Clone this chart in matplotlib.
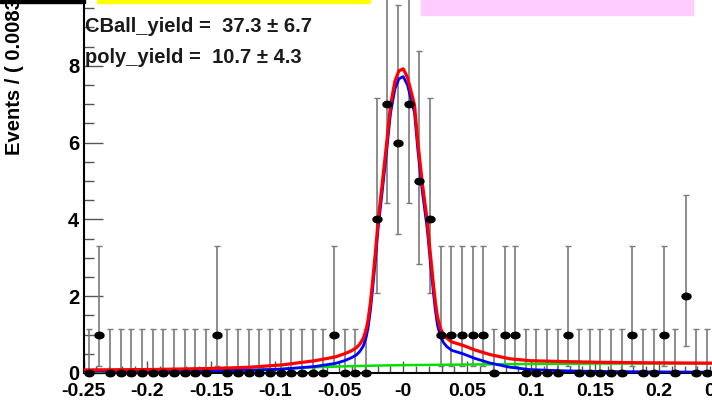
import numpy as np
import matplotlib
matplotlib.use("Agg")
import matplotlib.pyplot as plt
from matplotlib.patches import Rectangle

# ---- 数据：60 个 bin，范围 -0.25 ~ 0.25 ----
x_min, x_max, n_bins = -0.25, 0.25, 60
counts = [0, 1, 0, 0, 0, 0, 0, 0, 0, 0,
          0, 0, 1, 0, 0, 0, 0, 0, 0, 0,
          0, 0, 0, 1, 0, 0, 0, 4, 7, 6,
          7, 5, 4, 1, 1, 1, 1, 1, 0, 1,
          1, 0, 0, 0, 0, 1, 0, 0, 0, 0,
          0, 1, 0, 0, 1, 0, 2, 0, 0, 0]

# Poisson 68% 区间 (下误差 / 上误差)
err_lo = {0: 0.0, 1: 0.827, 2: 1.292, 4: 1.914, 5: 2.159, 6: 2.377, 7: 2.580}
err_hi = {0: 1.148, 1: 2.299, 2: 2.638, 4: 3.162, 5: 3.382, 6: 3.583, 7: 3.770}

# 拟合曲线（从图中读取的采样点）
curve_x = [-0.25, -0.198, -0.147, -0.120, -0.095, -0.069, -0.053, -0.046, -0.041,
           -0.0366, -0.034, -0.0313, -0.029, -0.0274, -0.0258, -0.0242, -0.0216,
           -0.0196, -0.0164, -0.0130, -0.0099, -0.0065, -0.0034, 0.0, 0.0033,
           0.0088, 0.0115, 0.0149, 0.0187, 0.0209, 0.0235, 0.0251, 0.0267, 0.0290,
           0.0315, 0.0340, 0.0379, 0.0467, 0.0560, 0.0678, 0.0834, 0.0990, 0.1225,
           0.1514, 0.1928, 0.25]
total_y = [0.08, 0.09, 0.12, 0.15, 0.21, 0.32, 0.42, 0.50, 0.57,
           0.66, 0.75, 0.90, 1.13, 1.40, 1.80, 2.30, 3.20,
           3.98, 4.94, 5.98, 6.98, 7.60, 7.87, 7.92, 7.70,
           6.98, 5.98, 4.94, 3.98, 3.20, 2.33, 1.85, 1.47, 1.17,
           1.00, 0.91, 0.81, 0.72, 0.60, 0.48, 0.37, 0.32, 0.30,
           0.28, 0.265, 0.255]
signal_y = [0.05, 0.05, 0.06, 0.07, 0.10, 0.17, 0.25, 0.32, 0.39,
            0.47, 0.56, 0.70, 0.93, 1.20, 1.60, 2.10, 3.01,
            3.79, 4.74, 5.78, 6.78, 7.40, 7.66, 7.72, 7.50,
            6.78, 5.78, 4.73, 3.77, 2.99, 2.12, 1.64, 1.26, 0.96,
            0.79, 0.69, 0.59, 0.50, 0.38, 0.26, 0.15, 0.09, 0.06,
            0.04, 0.03, 0.02]
bkg_x = [-0.25, -0.2, -0.15, -0.1, -0.07, -0.05, -0.025, 0.0, 0.05, 0.1, 0.15, 0.2, 0.25]
bkg_y = [0.03, 0.04, 0.06, 0.10, 0.15, 0.17, 0.19, 0.205, 0.22, 0.235, 0.245, 0.25, 0.255]

x_ticks = [-0.25, -0.2, -0.15, -0.1, -0.05, 0.0, 0.05, 0.1, 0.15, 0.2, 0.25]
x_tick_labels = ['-0.25', '-0.2', '-0.15', '-0.1', '-0.05', '-0',
                 '0.05', '0.1', '0.15', '0.2', '0.25']
y_ticks = [0, 2, 4, 6, 8, 10]

param_lines = ['CBall_yield =  37.3 \u00b1 6.7', 'poly_yield =  10.7 \u00b1 4.3']
y_label = 'Events / ( 0.00833 )'

plt.rcParams['font.family'] = ['Liberation Sans', 'DejaVu Sans']
plt.rcParams['font.weight'] = 'bold'


def main():
    W, H = 712, 404
    fig = plt.figure(figsize=(W / 100, H / 100), dpi=100)

    # 坐标框比图片大（原图被裁切过），右边和上边落在画布外
    px_left, px_right, px_zero = 83.5, 723.0, 373.0
    y_top = 11.0
    px_per_unit = 38.4
    ax = fig.add_axes([px_left / W, (H - px_zero) / H,
                       (px_right - px_left) / W, y_top * px_per_unit / H])
    ax.set_xlim(x_min, x_max)
    ax.set_ylim(0, y_top)

    width = (x_max - x_min) / n_bins
    centers = x_min + width * (np.arange(n_bins) + 0.5)
    lo = [err_lo[c] for c in counts]
    hi = [err_hi[c] for c in counts]

    ax.errorbar(centers, counts, yerr=[lo, hi], fmt='none', ecolor='#7a7a7a',
                elinewidth=1.2, capsize=2, capthick=1.0, zorder=2)

    ax.plot(bkg_x, bkg_y, color='#00e000', lw=1.8, zorder=3)
    ax.plot(curve_x, signal_y, color='#0000ff', lw=2.0, zorder=4)
    ax.plot(curve_x, total_y, color='#ff0000', lw=2.3, zorder=5)

    t = np.linspace(0, 2 * np.pi, 40)
    ellipse = list(zip(1.4 * np.cos(t), np.sin(t)))
    ax.plot(centers, counts, linestyle='none', marker=ellipse, markersize=6.5,
            color='black', zorder=6, clip_on=False)

    # 坐标轴样式 (ROOT 风格：刻度朝内)
    for side in ['top', 'right']:
        ax.spines[side].set_visible(False)
    ax.spines['left'].set_linewidth(1.5)
    ax.spines['bottom'].set_linewidth(1.5)

    ax.set_xticks(x_ticks)
    ax.set_xticklabels(x_tick_labels)
    ax.set_xticks(np.arange(-0.25, 0.2501, 0.01), minor=True)
    ax.set_yticks(y_ticks)
    ax.set_yticks(np.arange(0, 11.01, 0.5), minor=True)
    ax.tick_params(axis='x', which='major', direction='in', length=9, width=1,
                   color='#555555', labelsize=14, pad=7)
    ax.tick_params(axis='x', which='minor', direction='in', length=5, width=1,
                   color='#555555')
    ax.tick_params(axis='y', which='major', direction='in', length=14, width=1,
                   color='#555555', labelsize=14.5, pad=3)
    ax.tick_params(axis='y', which='minor', direction='in', length=7, width=1,
                   color='#555555')

    # 参数文字
    fig.text(85 / W, 1 - 32 / H, param_lines[0], fontsize=14.5, color='#1a1a1a',
             ha='left', va='baseline')
    fig.text(85 / W, 1 - 63 / H, param_lines[1], fontsize=14.5, color='#1a1a1a',
             ha='left', va='baseline')

    fig.text(15 / W, 1 - 155 / H, y_label, fontsize=14.5, rotation=90,
             ha='center', va='bottom')

    # 顶部被裁掉的色块
    fig.patches.append(Rectangle((0, 1 - 2.5 / H), 85 / W, 2.5 / H,
                                 transform=fig.transFigure, color='black'))
    fig.patches.append(Rectangle((97 / W, 1 - 3 / H), 273 / W, 3 / H,
                                 transform=fig.transFigure, color='#ffff00'))
    fig.patches.append(Rectangle((421 / W, 1 - 15 / H), 272 / W, 15 / H,
                                 transform=fig.transFigure, color='#ffccff'))

    fig.savefig('out.png', dpi=100)


if __name__ == "__main__":
    main()
